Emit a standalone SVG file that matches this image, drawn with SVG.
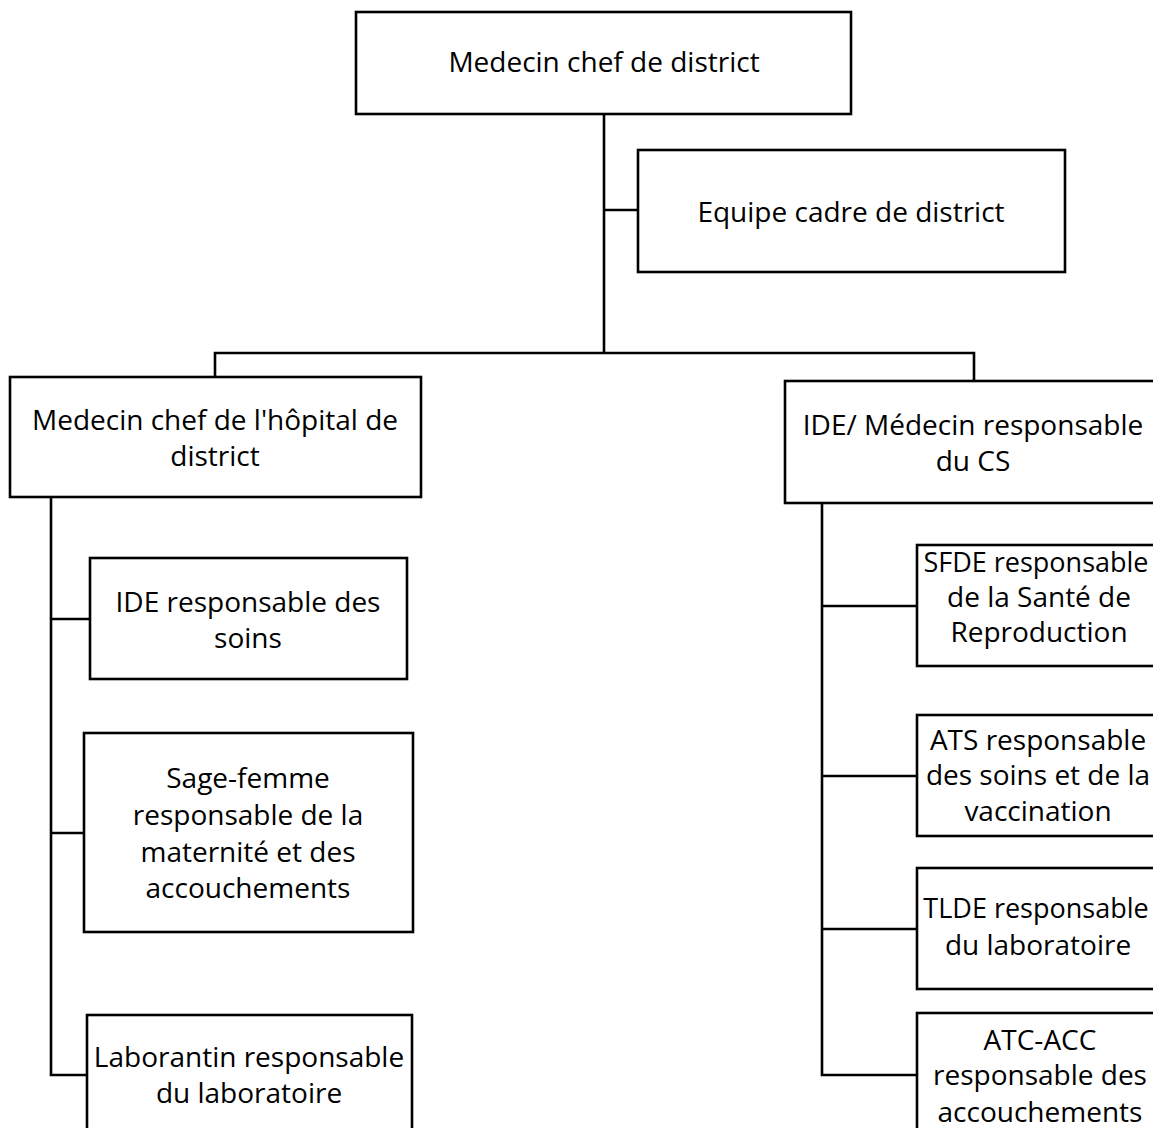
<svg xmlns="http://www.w3.org/2000/svg" width="1153" height="1128" viewBox="0 0 1153 1128">
<style>
.box{fill:#fff;stroke:#000;stroke-width:2.6}
.ln{fill:none;stroke:#000;stroke-width:2.6}
text{font-family:"Open Sans","Noto Sans","Liberation Sans",sans-serif;font-size:28px;fill:#000;text-anchor:middle}
.sm{font-size:27px}
</style>
<rect width="1153" height="1128" fill="#fff"/>
<g id="connectors">
<path class="ln" d="M604 114V353"/>
<path class="ln" d="M604 210H638"/>
<path class="ln" d="M215 377V353H974V381"/>
<path class="ln" d="M51 497V1075H87"/>
<path class="ln" d="M51 619H90"/>
<path class="ln" d="M51 833H84"/>
<path class="ln" d="M822 503V1075H917"/>
<path class="ln" d="M822 606H917"/>
<path class="ln" d="M822 776H917"/>
<path class="ln" d="M822 929H917"/>
</g>
<g id="n-medecin-chef-district">
<rect class="box" x="356" y="12" width="495" height="102"/>
<text x="604" y="72">Medecin chef de district</text>
</g>
<g id="n-equipe-cadre">
<rect class="box" x="638" y="150" width="427" height="122"/>
<text x="851" y="222">Equipe cadre de district</text>
</g>
<g id="n-medecin-hopital">
<rect class="box" x="10" y="377" width="411" height="120"/>
<text x="215" y="430">Medecin chef de l'hôpital de</text>
<text x="215" y="466">district</text>
</g>
<g id="n-ide-medecin-cs">
<rect class="box" x="785" y="381" width="376" height="122"/>
<text x="973" y="435">IDE/ Médecin responsable</text>
<text x="973" y="471">du CS</text>
</g>
<g id="n-ide-soins">
<rect class="box" x="90" y="558" width="317" height="121"/>
<text x="248" y="612">IDE responsable des</text>
<text x="248" y="648">soins</text>
</g>
<g id="n-sage-femme">
<rect class="box" x="84" y="733" width="329" height="199"/>
<text x="248" y="788">Sage-femme</text>
<text x="248" y="825">responsable de la</text>
<text x="248" y="862">maternité et des</text>
<text x="248" y="898">accouchements</text>
</g>
<g id="n-laborantin">
<rect class="box" x="87" y="1015" width="325" height="130"/>
<text x="249" y="1067">Laborantin responsable</text>
<text x="249" y="1103">du laboratoire</text>
</g>
<g id="n-sfde">
<rect class="box" x="917" y="545" width="243" height="121"/>
<text class="sm" x="1036" y="572">SFDE responsable</text>
<text x="1039" y="607">de la Santé de</text>
<text x="1039" y="642">Reproduction</text>
</g>
<g id="n-ats">
<rect class="box" x="917" y="715" width="243" height="121"/>
<text x="1038" y="750">ATS responsable</text>
<text x="1038" y="785">des soins et de la</text>
<text x="1038" y="821">vaccination</text>
</g>
<g id="n-tlde">
<rect class="box" x="917" y="868" width="243" height="121"/>
<text class="sm" x="1036" y="918">TLDE responsable</text>
<text x="1038" y="955">du laboratoire</text>
</g>
<g id="n-atc-acc">
<rect class="box" x="917" y="1013" width="243" height="130"/>
<text x="1040" y="1050">ATC-ACC</text>
<text x="1040" y="1085">responsable des</text>
<text x="1040" y="1122">accouchements</text>
</g>
</svg>
